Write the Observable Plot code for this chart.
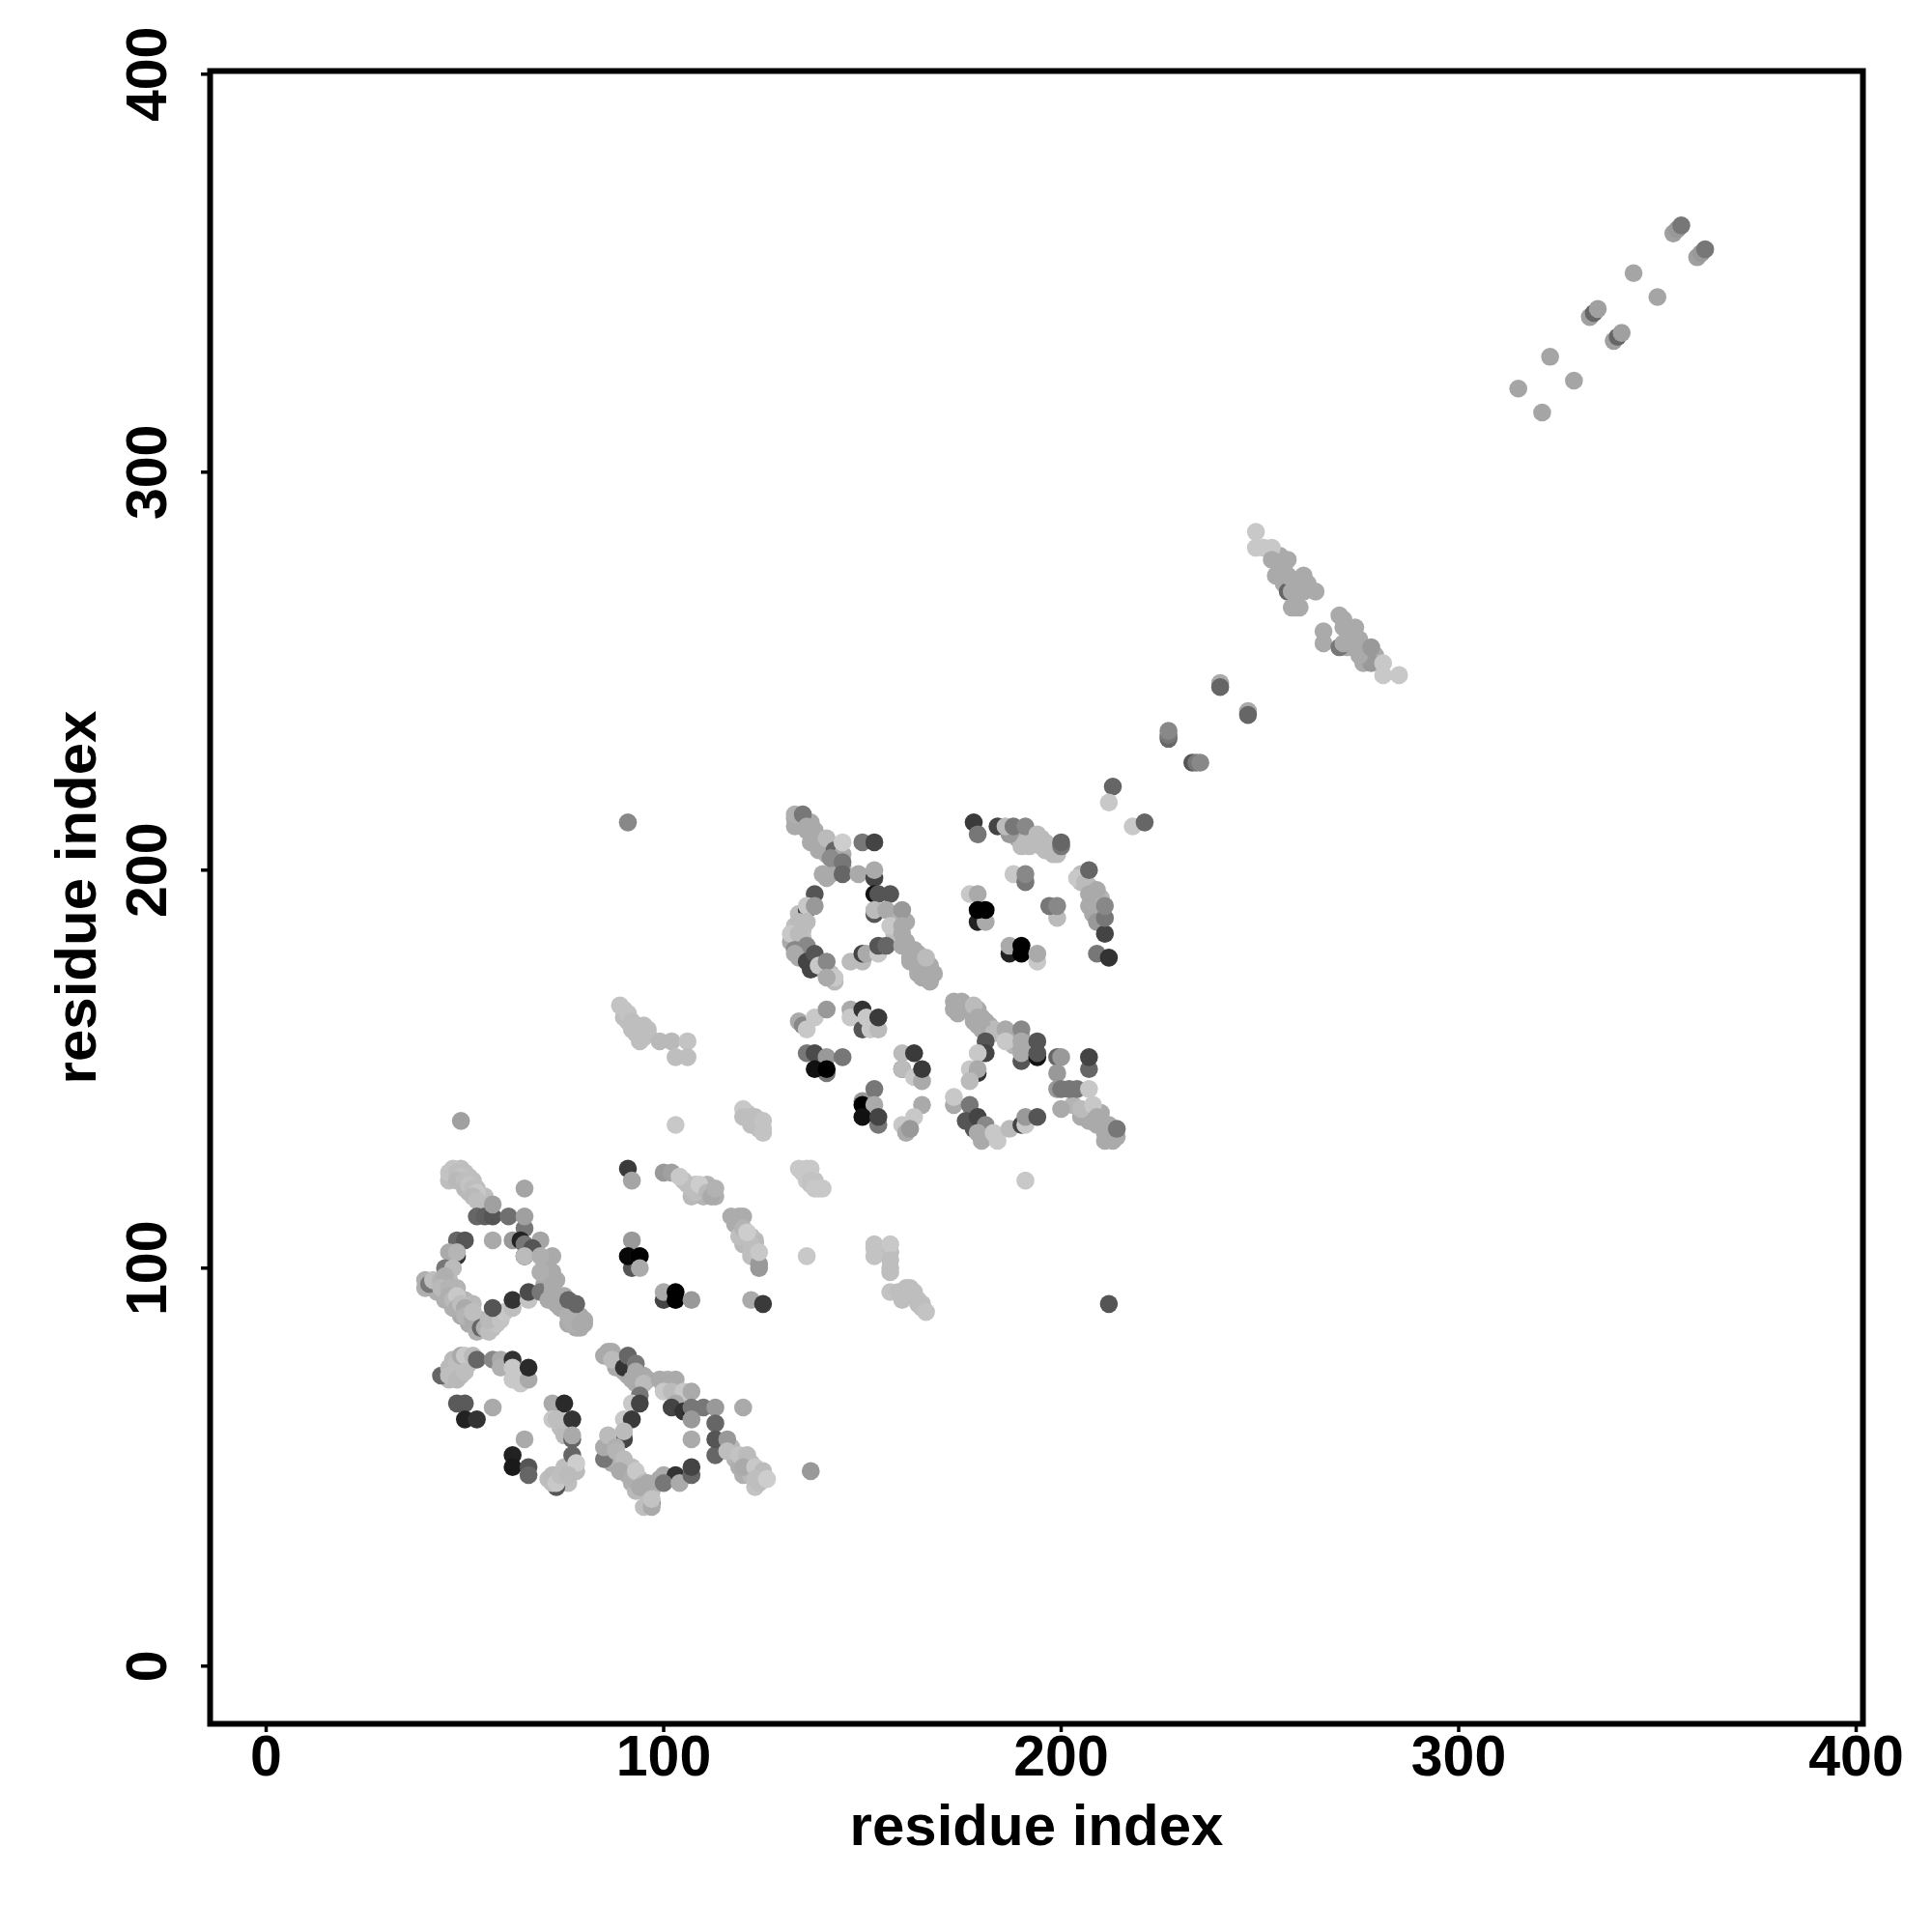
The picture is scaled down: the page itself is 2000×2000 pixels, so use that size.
<!DOCTYPE html>
<html>
<head>
<meta charset="utf-8">
<script src="https://cdn.jsdelivr.net/npm/d3@7"></script>
<script src="https://cdn.jsdelivr.net/npm/@observablehq/plot@0.6"></script>
<style>
html,body{margin:0;padding:0;background:#fff}
</style>
</head>
<body>
<div id="chart"></div>
<script>
// [x residue, y residue, grey level]
const denseLower = [[46,122,190],[47,123,190],[49,125,190],[50,124,190],[51,119,185],[52,122,190],[54,118,190],[55,118,190],[53,120,190],[51,123,190],
[43,94,175],[45,92,175],[47,90,175],[49,88,170],[51,86,170],[53,84,175],[55,86,180],[57,87,190],[46,97,185],[48,95,180],[50,92,180],[52,91,185],[54,87,180],
[70,101,170],[71,98,170],[70,96,170],[73,97,170],[74,93,170],[73,91,170],[75,90,170],[77,89,170],[76,86,170],[79,88,170],[78,85,170],[78,87,170],[79,85,170],[80,87,170],
[47,74,185],[49,73,190],[47,77,185],[49,75,190],[51,76,190],[46,72,185],[48,74,190],[63,74,200],[65,73,195],[64,71,200],[60,76,175],
[73,48,190],[75,50,190],[76,46,190],[74,46,190],[71,47,190],[75,47,190],[77,49,190],[77,51,190],[74,60,190],[73,64,195],[75,61,190],
[87,79,170],[88,77,170],[89,76,170],[90,74,170],[91,73,170],[92,74,170],[93,71,170],[94,70,175],[88,75,170],[95,73,170],[96,72,170],[100,70,185],[101,72,175],[102,70,185],[104,68,190],[103,67,190],
[86,53,175],[87,51,170],[88,52,175],[90,50,175],[91,48,175],[92,46,175],[94,47,190],[96,44,185],[95,44,190],[93,44,185],[97,44,190],[98,46,175],[99,47,170],[91,50,190],[92,50,190],
[117,55,185],[118,52,180],[119,50,175],[120,48,175],[122,48,185],[124,48,190],[121,50,180],[122,51,190],[123,45,195]];
const denseMiddle = [[106,121,190],[107,118,185],[108,121,195],[110,120,185],[111,121,180],[112,120,175],[110,118,180],[113,118,175],
[117,113,172],[119,111,175],[120,108,185],[120,106,185],[121,107,185],[123,107,185],[122,108,190],[123,106,185],[122,103,190],[123,103,190],
[135,124,200],[136,122,200],[138,122,195],[137,121,195],[139,120,200],
[153,105,195],[157,104,190],[157,100,190],[162,95,190],[162,93,190],[163,94,190],[164,91,190],[161,93,190],[165,91,190],
[90,165,195],[90,163,190],[91,162,190],[93,161,190],[93,159,190],[93,160,190],[94,159,190],[96,160,190],[96,159,190],[95,160,190],
[121,139,195],[123,137,190],[124,135,190],[125,135,195],[123,138,190],[122,137,190]];
const denseUpper = [[133,213,170],[134,212,170],[135,212,170],[137,212,170],[136,210,170],[138,208,170],[138,210,170],[137,207,170],[140,207,175],[139,205,170],[140,205,170],[141,204,170],[141,206,175],[143,204,170],[144,202,170],[145,201,170],[142,199,170],[141,198,170],
[134,189,190],[133,186,190],[135,185,190],[135,183,190],[160,188,170],[158,189,180],[161,187,170],[158,184,190],
[161,182,170],[163,180,170],[165,177,170],[167,176,170],[163,178,170],[164,175,170],[167,172,170],[164,174,170],[167,174,170],[132,182,170],[135,179,170],[134,178,170],[137,177,170],[140,175,190],[142,174,190],[143,172,185],
[193,208,187],[195,208,187],[196,207,187],[197,205,187],[199,204,187],[196,205,187],[190,209,180],[189,208,170],[190,206,187],[192,206,187],
[206,198,187],[205,197,187],[207,196,187],[208,195,180],[209,193,180],[208,192,180],[209,190,180],[210,193,180],[208,189,170],
[174,166,170],[174,164,170],[175,167,170],[176,165,170],[178,164,170],[179,165,170],[180,163,170],[181,162,170],[180,160,170],[182,161,170],[181,159,170],[178,162,170],[179,161,170],[183,160,187],
[188,159,170],[188,156,180],[190,155,170],[190,158,170],
[203,141,180],[205,138,170],[206,139,170],[208,138,170],[209,136,170],[210,136,170],[211,134,170],[212,135,170],[207,137,170],[213,132,170],[211,132,170],[213,135,170],[210,139,170],[208,137,170],
[255,279,170],[256,276,170],[259,273,170],[260,270,170],[262,272,170],[256,272,170],[259,266,170],
[271,263,170],[272,260,170],[272,256,170],[275,258,170],[277,255,170],[276,252,170],[279,254,170]];
const lowerLeftTop = [[49,137,160],[103,136,200],[65,120,165],
[46,124,195],[47,125,195],[48,124,190],[49,123,195],[48,122,185],[50,122,190],[50,120,185],[51,121,195],[52,120,190],[53,119,200],[52,118,185],[53,117,190],[54,116,190],
[53,113,102],[55,113,95],[57,113,85],[61,113,112],[57,116,160],[65,110,119],[65,113,160],
[48,107,102],[50,107,85],[57,107,170],[62,107,153],[64,107,34],[65,106,119],[69,107,165],[67,105,85],
[48,103,51],[46,104,170],[48,104,181],[45,100,119],[47,100,187],[65,103,51],[65,103,187],
[72,103,170],[69,103,175],[72,99,170],[69,99,175],
[40,95,175],[40,97,175],[41,96,119],[42,97,190],[44,97,180],[45,98,175],[44,95,185],[46,95,180],[46,93,175],[47,92,185],[48,93,200],[48,90,175],[49,91,190],[50,90,170],[50,88,180],[52,87,170],[52,89,190],
[54,85,102],[55,85,175],[56,84,190],[57,85,190],[58,86,195],[56,87,185],[59,87,195],[60,89,200],[62,90,190],[57,90,85],[62,92,51],[66,92,195],[66,94,75],[69,94,119],
[72,96,170],[72,94,170],[71,92,170],[75,93,170],[74,90,170],[76,88,175],[76,92,102],[78,91,102],[78,86,175],[77,86,175],[79,86,170],[80,86,170]];
const lowerLeftBottom = [[44,73,102],[46,75,185],[48,76,190],[49,78,170],[50,78,200],[52,78,187],[46,73,190],[48,72,185],[50,74,190],[53,77,102],
[57,77,136],[59,77,170],[59,75,176],[62,72,200],[62,77,51],[62,75,200],[64,73,200],[66,72,170],[66,75,42],
[48,66,90],[50,66,90],[57,65,170],[50,62,34],[53,62,51],[65,57,170],[62,53,34],[62,50,26],[66,50,85],[66,48,102],
[72,66,170],[75,66,42],[72,62,200],[73,62,190],[77,62,51],[75,58,187],[77,57,102],[77,58,170],[77,53,102],[78,49,187],[78,51,205],
[73,45,85],[72,46,190],[72,48,187],[73,46,200],[74,48,190],[76,48,187]];
const lowerMiddle = [[85,78,170],[86,79,170],[87,77,187],[90,75,51],[91,78,102],[93,76,119],[93,74,170],[92,72,170],[95,71,187],[99,72,170],[103,72,170],[100,69,200],[102,69,187],[105,69,200],[107,69,170],
[94,68,119],[92,66,200],[94,66,68],[90,62,200],[92,62,58],[90,58,187],[90,57,68],[90,59,187],
[103,66,170],[102,65,68],[105,64,51],[107,64,34],[107,65,119],[110,65,119],[113,65,153],[120,65,170],[107,62,153],[107,57,170],
[113,61,102],[113,53,102],[113,57,85],[116,57,153],[116,54,190],[119,53,195],[121,53,187],[120,50,170],[123,50,200],[125,49,187],[123,47,190],[124,46,190],[126,47,205],[137,49,153],
[85,52,119],[85,55,170],[86,58,187],[88,55,175],[88,54,180],[90,52,187],[89,49,170],[92,47,175],[93,49,200],[95,46,187],[94,45,170],[96,46,170],
[97,41,102],[95,40,190],[97,40,170],[97,42,195],[100,48,170],[103,48,51],[100,46,119],[104,46,170],[107,48,102],[107,50,68]];
const strandsNearLeft = [[91,125,58],[92,122,165],[100,124,153],[102,124,160],[105,122,190],[104,123,200],[107,120,190],[108,119,190],[109,121,205],[111,119,185],[112,118,170],[113,120,178],
[134,125,200],[136,125,200],[137,125,200],[137,122,195],[138,120,200],[140,120,200],
[119,113,172],[120,113,172],[118,111,172],[119,108,190],[120,110,180],[122,106,190],[121,109,205],[122,104,190],[124,101,153],[124,100,153],[124,104,200],[136,103,200],
[92,107,153],[92,100,85],[91,103,8],[94,103,0],[94,100,170],
[100,92,68],[100,94,170],[103,94,0],[103,92,0],[107,92,153],[122,92,170],[125,91,58]];
const farRightLower = [[153,106,195],[157,106,200],[153,103,195],[157,102,190],[157,99,190],[157,94,195],[159,94,190],[161,95,190],[160,92,190],[164,92,190],[165,90,190],[166,89,195],[212,91,85]];
const middleStrands = [[89,166,195],[91,164,195],[92,162,190],[92,160,190],[95,161,190],[95,158,190],[94,157,190],[99,157,185],[102,157,185],[106,157,195],[103,153,190],[106,153,190],
[120,140,200],[120,138,190],[122,138,190],[122,136,190],[124,136,190],[125,137,195],[125,134,195]];
const upperLeftBlock = [[133,211,170],[133,214,175],[135,214,119],[136,211,170],[137,209,170],[139,206,170],[141,208,187],[143,205,102],[145,204,170],[142,203,140],[145,207,205],[150,207,119],[153,207,68],
[145,202,119],[140,199,170],[145,199,102],[149,199,170],[153,198,68],[153,200,170],
[138,194,85],[153,194,17],[154,194,85],[157,194,85],[136,190,51],[136,191,200],[138,191,153],[153,189,85],[153,190,187],[156,190,170],[160,190,153],
[134,187,187],[136,187,187],[132,184,200],[134,184,187],[157,186,200],[160,186,170],[160,184,170],
[133,180,136],[136,181,136],[133,179,170],[136,177,68],[138,179,85],[137,175,68],[139,176,200],[141,177,136],[143,173,200],[141,173,170],
[147,177,187],[150,177,187],[150,179,68],[151,179,170],[154,179,200],[154,181,85],[156,181,102],
[160,181,170],[162,180,170],[164,179,170],[162,178,170],[162,177,170],[164,176,170],[166,178,187],[165,173,170],[166,173,170],[168,174,170]];
const upperRightBlock = [[178,212,58],[179,209,119],[184,211,68],[187,209,153],[186,211,187],[188,211,119],[191,207,187],[191,211,136],[194,209,187],[195,206,187],[198,204,187],[198,206,187],[200,206,119],[200,207,102],
[188,199,200],[191,197,119],[191,199,136],[177,194,200],[179,194,170],[179,187,34],[181,187,170],[179,190,0],[181,190,0],
[199,188,187],[197,191,119],[199,191,136],
[205,199,187],[204,198,200],[206,197,187],[207,200,102],[209,195,170],[207,194,170],[207,191,170],[209,187,153],[211,184,68],[211,188,119],[211,191,136],[209,179,119],[212,178,51],
[187,179,34],[187,181,170],[190,181,0],[190,179,0],[194,177,200],[194,179,170]];
const lowerLeftOfCentre = [[134,162,170],[135,161,136],[136,160,200],[138,163,200],[141,165,153],[147,165,170],[147,163,200],[150,160,85],[152,160,200],[150,165,51],[151,163,200],[154,160,187],[154,163,58],
[136,154,119],[138,154,75],[141,153,153],[145,153,119],[141,149,119],[138,150,17],[141,150,0],
[160,150,85],[160,154,187],[160,150,187],[163,154,58],[163,148,200],[165,147,170],[165,150,58],
[150,142,153],[153,145,119],[150,141,0],[153,141,170],[150,138,17],[154,136,119],[154,138,68],
[165,141,170],[163,138,200],[160,136,200],[161,134,170],[162,135,153]];
const centreRightBlock = [[173,167,170],[173,165,170],[178,166,187],[179,163,170],[180,161,170],[183,159,187],[181,157,85],[181,154,68],[179,154,200],[177,150,200],[179,149,51],[179,150,170],[177,147,187],
[186,160,170],[190,160,136],[186,157,200],[190,157,170],[190,152,85],[190,154,170],[194,157,85],[194,153,17],[194,154,85],
[199,153,102],[200,153,153],[199,149,153],[207,150,102],[207,153,68],[199,145,153],[200,145,119],[202,145,119],[204,145,119],[207,145,200],[200,140,170],[205,140,187],[208,141,200],[209,138,170],[212,136,170],[212,133,170],[214,133,170],[214,135,119],
[173,141,170],[173,143,200],[177,141,119],[176,137,85],[178,135,85],[179,138,68],[181,136,136],[180,132,170],[179,134,170],[183,134,200],[184,132,200],[187,135,187],[190,136,68],[191,136,200],[191,138,153],[194,138,85],[191,122,200]];
const helixChain = [[91,212,136],[213,221,102],[212,217,200],[218,211,200],[221,212,102],[227,233,102],[227,234,119],[227,235,136],[233,227,85],[234,227,119],[235,227,136],
[240,247,170],[240,246,102],[247,240,170],[247,239,102]];
const upperStrands = [[249,285,200],[249,281,200],[251,281,200],[253,281,200],[253,278,170],[254,274,170],[257,278,170],[257,270,102],[258,270,170],[257,274,170],[261,274,170],[261,270,170],[264,270,170],[258,266,170],[260,266,170],
[266,260,170],[266,257,170],[270,264,170],[271,261,170],[274,261,170],[270,256,119],[271,257,170],[274,256,170],[278,252,153],[275,254,170],[278,256,153],[281,252,200],[281,249,200],[285,249,200]];
const farEnd = [[315,321,165],[321,315,165],[323,329,165],[329,323,165],[344,350,165],[350,344,165],
[333,339,160],[334,340,102],[335,341,160],[339,333,160],[340,334,102],[341,335,160],
[354,360,160],[355,361,153],[356,362,119],[360,354,160],[361,355,153],[362,356,119]];

const contacts = [].concat(denseLower, denseMiddle, denseUpper, lowerLeftTop, lowerLeftBottom, lowerMiddle, strandsNearLeft, farRightLower, middleStrands,
  upperLeftBlock, upperRightBlock, lowerLeftOfCentre, centreRightBlock, helixChain, upperStrands, farEnd);

const tickValues = [0, 100, 200, 300, 400];
const axisName = "residue index";
const fontFamily = "'Liberation Sans', Arial, Helvetica, sans-serif";

const chart = Plot.plot({
  width: 2000,
  height: 2000,
  marginLeft: 217,
  marginRight: 72,
  marginTop: 73,
  marginBottom: 216,
  style: {fontFamily, background: "#fff", color: "#000"},
  x: {domain: [-14.1, 401.7], label: null},
  y: {domain: [-14.5, 400.8], label: null},
  color: {type: "linear", domain: [0, 255], range: ["#000", "#fff"]},
  marks: [
    Plot.dot(contacts, {x: d => d[0], y: d => d[1], fill: d => d[2], r: 9.3, stroke: "none"}),
    Plot.frame({stroke: "#000", strokeWidth: 6}),
    Plot.axisX(tickValues, {anchor: "bottom", tickSize: 9, strokeWidth: 3.5, tickPadding: 3, fontSize: 59, fontWeight: "bold", label: null}),
    Plot.axisY(tickValues, {anchor: "left", tickSize: 9, strokeWidth: 3.5, tickPadding: 37, tickRotate: -90, fontSize: 59, fontWeight: "bold", label: null, textAnchor: "middle"}),
    Plot.text([axisName], {frameAnchor: "bottom", dy: 125, fontSize: 60, fontWeight: "bold", fill: "#000"}),
    Plot.text([axisName], {frameAnchor: "left", dx: -138, rotate: -90, textAnchor: "middle", fontSize: 60, fontWeight: "bold", fill: "#000"})
  ]
});
chart.setAttribute("overflow", "visible");
document.getElementById("chart").appendChild(chart);
</script>
</body>
</html>
